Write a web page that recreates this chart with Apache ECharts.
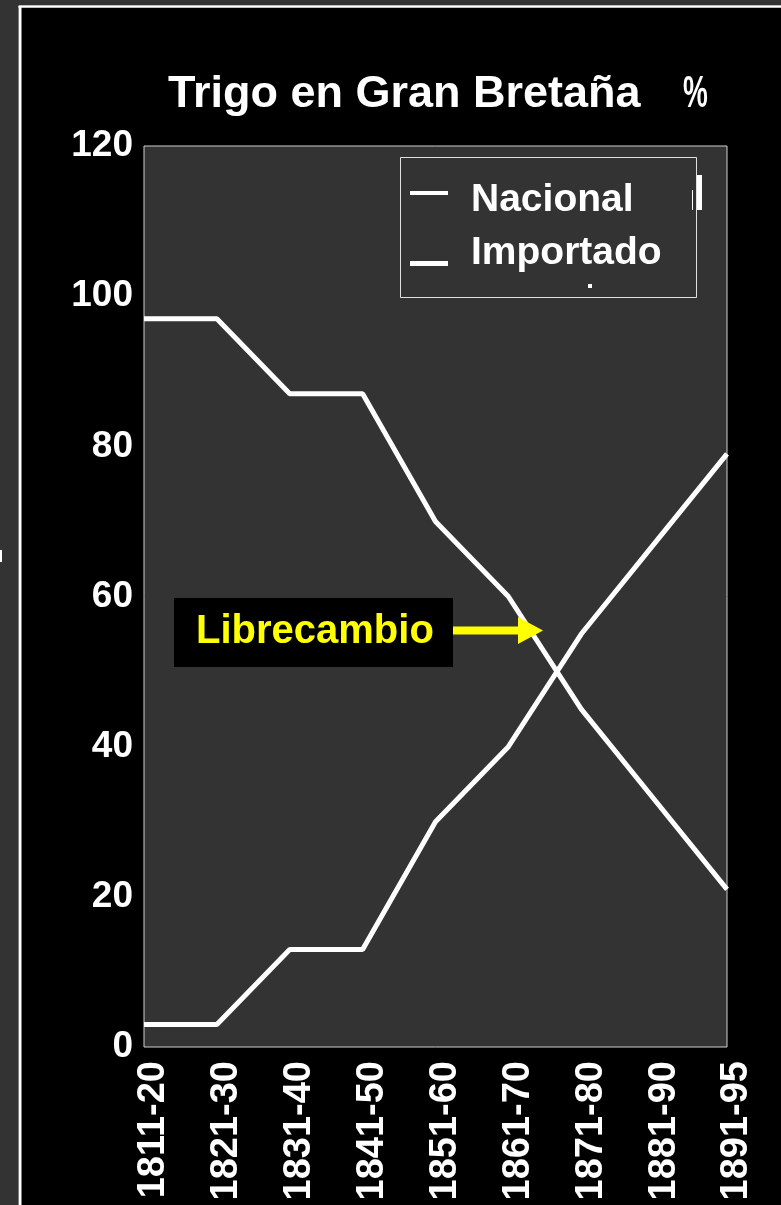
<!DOCTYPE html>
<html>
<head>
<meta charset="utf-8">
<script src="https://cdn.jsdelivr.net/npm/echarts@6/dist/echarts.min.js"></script>
<style>
  html, body { margin: 0; padding: 0; background: #333; }
  #chart { width: 781px; height: 1205px; }
</style>
</head>
<body>
<div id="chart"></div>
<script>
// Wheat supply in Great Britain: domestic vs imported share, by decade
const periods = ['1811-20', '1821-30', '1831-40', '1841-50', '1851-60', '1861-70', '1871-80', '1881-90', '1891-95'];
const nacional = [97, 97, 87, 87, 70, 60, 45, 33, 21];
const importado = [3, 3, 13, 13, 30, 40, 55, 67, 79];
const seriesNames = ['Nacional', 'Importado'];
const yTicks = [0, 20, 40, 60, 80, 100, 120];
const chartTitle = 'Trigo en Gran Bretaña';
const titleUnit = '%';
const noteText = 'Librecambio';

const FONT = '"Liberation Sans", Arial, sans-serif';
const chart = echarts.init(document.getElementById('chart'), null, { renderer: 'canvas' });

const lineStyle = { color: '#ffffff', width: 5 };

chart.setOption({
  backgroundColor: '#000000',
  animation: false,
  title: {
    text: chartTitle,
    left: 168,
    top: 72,
    padding: 0,
    textStyle: { color: '#ffffff', fontSize: 45, fontWeight: 'bold', fontFamily: FONT }
  },
  grid: {
    left: 144, right: 54, top: 146, bottom: 158,
    show: true,
    backgroundColor: '#333333',
    borderColor: '#d0d0d0',
    borderWidth: 1
  },
  xAxis: {
    type: 'category',
    data: periods,
    boundaryGap: false,
    axisLine: { show: false },
    axisTick: { show: false },
    splitLine: { show: false },
    axisLabel: {
      rotate: 90,
      interval: 0,
      margin: 14,
      formatter: function (v) { return '{p|' + v + '}'; },
      rich: {
        p: {
          padding: [20, 0, 0, 0],
          color: '#ffffff',
          fontSize: 38,
          fontWeight: 'bold',
          fontFamily: FONT
        }
      },
      color: '#ffffff',
      fontSize: 38,
      fontWeight: 'bold',
      fontFamily: FONT
    }
  },
  yAxis: {
    type: 'value',
    min: yTicks[0],
    max: yTicks[yTicks.length - 1],
    interval: yTicks[1] - yTicks[0],
    axisLine: { show: false },
    axisTick: { show: false },
    splitLine: { show: false },
    axisLabel: {
      margin: 11,
      padding: [0, 0, 6, 0],
      color: '#ffffff',
      fontSize: 37,
      fontWeight: 'bold',
      fontFamily: FONT
    }
  },
  series: [
    { name: seriesNames[0], type: 'line', data: nacional, showSymbol: false, symbol: 'none', lineStyle: lineStyle, z: 3 },
    { name: seriesNames[1], type: 'line', data: importado, showSymbol: false, symbol: 'none', lineStyle: lineStyle, z: 3 }
  ],
  graphic: [
    // outer frame: grey margin strips and white border line
    { type: 'rect', shape: { x: 0, y: 0, width: 18, height: 1205 }, style: { fill: '#333333' }, silent: true },
    { type: 'rect', shape: { x: 0, y: 0, width: 781, height: 5 }, style: { fill: '#333333' }, silent: true },
    { type: 'line', shape: { x1: 20, y1: 6, x2: 20, y2: 1205 }, style: { stroke: '#ffffff', lineWidth: 3 }, silent: true },
    { type: 'line', shape: { x1: 18.5, y1: 6.5, x2: 781, y2: 6.5 }, style: { stroke: '#ffffff', lineWidth: 2.5 }, silent: true },
    { type: 'rect', shape: { x: 0, y: 550, width: 2, height: 12 }, style: { fill: '#ffffff' }, silent: true },

    // narrow percent sign after the title
    { type: 'text', x: 683, y: 95, scaleX: 0.62, style: { text: titleUnit, fill: '#ffffff', font: 'bold 45px ' + FONT, textVerticalAlign: 'middle' }, silent: true },

    // legend box
    { type: 'rect', z: 10, shape: { x: 400.5, y: 157.5, width: 296, height: 140 }, style: { fill: 'none', stroke: '#e0e0e0', lineWidth: 1 }, silent: true },
    { type: 'rect', z: 10, shape: { x: 410, y: 191, width: 38, height: 4 }, style: { fill: '#ffffff' }, silent: true },
    { type: 'rect', z: 10, shape: { x: 410, y: 261, width: 38, height: 5 }, style: { fill: '#ffffff' }, silent: true },
    { type: 'text', z: 10, x: 471, y: 200, style: { text: seriesNames[0], fill: '#ffffff', font: 'bold 39px ' + FONT, textVerticalAlign: 'middle' }, silent: true },
    { type: 'text', z: 10, x: 471, y: 253, style: { text: seriesNames[1], fill: '#ffffff', font: 'bold 39px ' + FONT, textVerticalAlign: 'middle' }, silent: true },
    { type: 'rect', z: 10, shape: { x: 697, y: 175, width: 5, height: 35 }, style: { fill: '#ffffff' }, silent: true },
    { type: 'rect', z: 10, shape: { x: 692, y: 190, width: 1, height: 20 }, style: { fill: '#ffffff' }, silent: true },
    { type: 'rect', z: 10, shape: { x: 588, y: 284, width: 4, height: 4 }, style: { fill: '#ffffff' }, silent: true },

    // free-trade annotation with arrow
    { type: 'rect', z: 10, shape: { x: 174, y: 598, width: 279, height: 69 }, style: { fill: '#000000' }, silent: true },
    { type: 'text', z: 11, x: 196, y: 632, style: { text: noteText, fill: '#ffff00', font: 'bold 40px ' + FONT, textVerticalAlign: 'middle' }, silent: true },
    { type: 'rect', z: 10, shape: { x: 453, y: 626.5, width: 67, height: 8 }, style: { fill: '#ffff00' }, silent: true },
    { type: 'polygon', z: 10, shape: { points: [[518, 617], [543, 630.5], [518, 644]] }, style: { fill: '#ffff00' }, silent: true }
  ]
});
</script>
</body>
</html>
